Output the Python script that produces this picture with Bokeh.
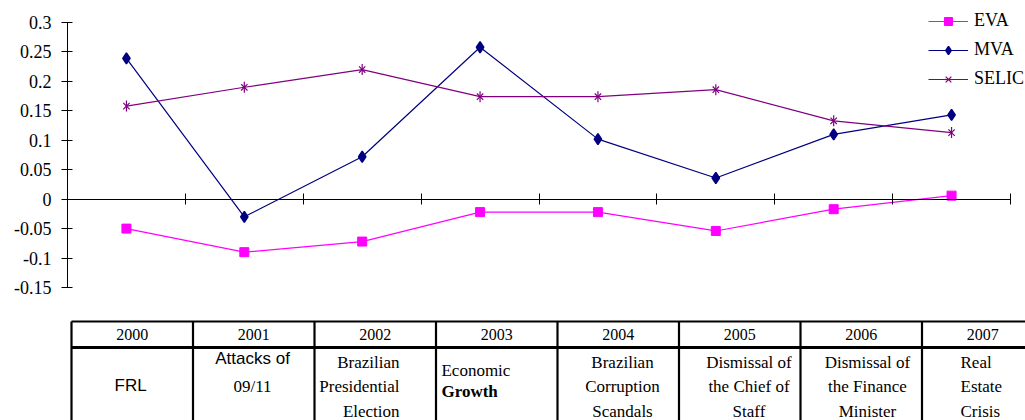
import numpy as np
from bokeh.plotting import figure
from bokeh.models import (Range1d, LinearAxis, FixedTicker, CustomJSTickFormatter,
                          Legend, LegendItem, ColumnDataSource)
from bokeh.layouts import column
from bokeh.embed import file_html
from bokeh.resources import INLINE

# ---------------- data ----------------
years = ["2000", "2001", "2002", "2003", "2004", "2005", "2006", "2007"]
eva = [-0.050, -0.090, -0.072, -0.022, -0.022, -0.054, -0.017, 0.006]
mva = [0.239, -0.030, 0.072, 0.258, 0.102, 0.036, 0.110, 0.143]
selic = [0.158, 0.190, 0.220, 0.174, 0.174, 0.186, 0.133, 0.113]
y_ticks = [-0.15, -0.1, -0.05, 0, 0.05, 0.1, 0.15, 0.2, 0.25, 0.3]
events = [["FRL"],
          ["Attacks of", "09/11"],
          ["Brazilian", "Presidential", "Election"],
          ["Economic", "Growth"],
          ["Brazilian", "Corruption", "Scandals"],
          ["Dismissal of", "the Chief of", "Staff"],
          ["Dismissal of", "the Finance", "Minister"],
          ["Real", "Estate", "Crisis"]]

SERIF = "Liberation Serif"
SANS = "Liberation Sans"

# ---------------- chart ----------------
n = len(years)
xs = np.arange(n) + 0.5
y_min, y_max = -0.15, 0.3
# frame spans x 67..1025 px, data 0..n covers 943 px; y frame 0..287 px, data covers 22..287
x_end = n * 958 / 943
y_end = y_max + 22 * (y_max - y_min) / 265

p = figure(width=1025, height=318, x_range=Range1d(0, x_end), y_range=Range1d(y_min, y_end),
           x_axis_type=None, y_axis_type=None, output_backend="svg", toolbar_location=None,
           min_border_left=67, min_border_right=0, min_border_top=0, min_border_bottom=31)
p.outline_line_color = None
p.background_fill_color = "white"
p.border_fill_color = "white"

yaxis = LinearAxis(ticker=FixedTicker(ticks=y_ticks, minor_ticks=[]), bounds=(y_min, y_max),
                   formatter=CustomJSTickFormatter(code="return tick.toString();"),
                   major_tick_in=5, major_tick_out=6, minor_tick_line_color=None,
                   axis_line_color="black", major_tick_line_color="black",
                   major_label_text_font=SERIF, major_label_text_font_size="18px",
                   major_label_text_color="black", major_label_standoff=10)
p.add_layout(yaxis, "left")

xaxis = LinearAxis(fixed_location=0, ticker=FixedTicker(ticks=list(range(n + 1)), minor_ticks=[]),
                   bounds=(0, n), formatter=CustomJSTickFormatter(code="return '';"),
                   major_tick_in=6, major_tick_out=5,
                   minor_tick_line_color=None, axis_line_color="black",
                   major_tick_line_color="black")
p.add_layout(xaxis, "below")

src = ColumnDataSource(dict(x=xs, eva=eva, mva=mva, selic=selic))
c_eva, c_mva, c_selic = "#FF00FF", "#000080", "#800080"

l_eva = p.line("x", "eva", source=src, line_color=c_eva, line_width=1.2)
s_eva = p.scatter("x", "eva", source=src, marker="square", size=9,
                  fill_color=c_eva, line_color=c_eva)
l_mva = p.line("x", "mva", source=src, line_color=c_mva, line_width=1.2)
s_mva = p.scatter("x", "mva", source=src, marker="diamond", size=11,
                  fill_color=c_mva, line_color=c_mva, line_width=1.5)
l_sel = p.line("x", "selic", source=src, line_color=c_selic, line_width=1.2)
s_sel1 = p.scatter("x", "selic", source=src, marker="x", size=9,
                   line_color=c_selic, line_width=1.2)
s_sel2 = p.scatter("x", "selic", source=src, marker="dash", size=11, angle=np.pi / 2,
                   line_color=c_selic, line_width=1.2)

legend = Legend(items=[LegendItem(label="EVA", renderers=[l_eva, s_eva]),
                       LegendItem(label="MVA", renderers=[l_mva, s_mva]),
                       LegendItem(label="SELIC", renderers=[l_sel, s_sel1, s_sel2])],
                location=(861, 198), glyph_width=40, glyph_height=20, label_height=20,
                label_standoff=6, spacing=8, padding=0, margin=0,
                border_line_color=None, background_fill_alpha=0,
                label_text_font=SERIF, label_text_font_size="18px",
                label_text_color="black")
p.add_layout(legend)

# ---------------- table ----------------
colw = 121.5
left_px = 71
t = figure(width=1025, height=102,
           x_range=Range1d((67 - left_px) / colw, (1025 - left_px) / colw),
           y_range=Range1d(-99, 3), x_axis_type=None, y_axis_type=None,
           output_backend="svg", toolbar_location=None,
           min_border_left=67, min_border_right=0, min_border_top=0, min_border_bottom=0)
t.outline_line_color = None

# grid lines of the table
t.segment(x0=list(range(n + 1)), y0=[0] * (n + 1), x1=list(range(n + 1)), y1=[-110] * (n + 1),
          line_color="black", line_width=2.2)
t.segment(x0=[0, 0], y0=[0, -26], x1=[n + 1, n + 1], y1=[0, -26],
          line_color="black", line_width=[2.2, 3])

# header
t.text(x=xs, y=[-13] * n, text=years, text_align="center", text_baseline="middle",
       text_font={"value": SERIF}, text_font_size="16px", text_color="black")

# body (per-cell layout: anchor, alignment, line y positions, fonts)
cell_x = [0.487, 1.49, 2.70, 3.045, 4.535, 5.576, 6.551, 7.317]
cell_align = ["center", "center", "right", "left", "center", "center", "center", "left"]
cell_y = {1: [-64], 2: [-37, -65], 3: [-40.5, -65, -89.5]}
cell_y_special = {3: [-49, -70]}
fonts = {(0, 0): SANS, (1, 0): SANS}
styles = {(3, 1): "bold"}

bx, by, btxt, balign, bfont, bstyle = [], [], [], [], [], []
for i, lines in enumerate(events):
    ys = cell_y_special.get(i, cell_y[len(lines)])
    for j, line in enumerate(lines):
        bx.append(cell_x[i])
        by.append(ys[j])
        btxt.append(line)
        balign.append(cell_align[i])
        bfont.append(fonts.get((i, j), SERIF))
        bstyle.append(styles.get((i, j), "normal"))

bsrc = ColumnDataSource(dict(x=bx, y=by, text=btxt, align=balign, font=bfont, style=bstyle))
t.text("x", "y", text="text", source=bsrc, text_align="align", text_baseline="middle",
       text_font="font", text_font_style="style", text_font_size="17px", text_color="black")

layout = column(p, t, spacing=0)
open("out.html", "w").write(file_html(layout, INLINE))
